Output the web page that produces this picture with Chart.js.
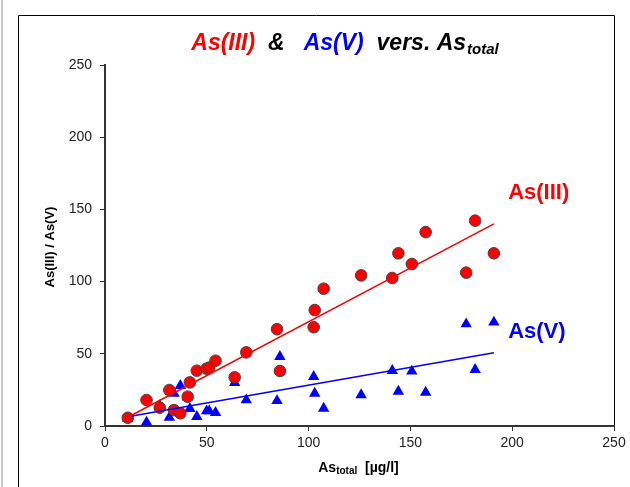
<!DOCTYPE html>
<html>
<head>
<meta charset="utf-8">
<script src="https://cdn.jsdelivr.net/npm/chart.js@4"></script>
<style>
  html, body { margin: 0; padding: 0; background: #fff; }
  #wrap { width: 630px; height: 487px; }
</style>
</head>
<body>
<div id="wrap"><canvas id="c" width="630" height="487"></canvas></div>
<script>
"use strict";

// As total (µg/l)
const asTotal = [11.2, 20.4, 26.9, 31.6, 33.9, 37.0, 40.6, 41.7, 45.1, 49.9, 51.2, 54.3, 63.7, 69.4,
                 84.5, 85.9, 102.5, 103.0, 107.4, 125.8, 141.1, 144.1, 150.7, 157.5, 177.4, 181.8, 191.0];
const asIII = [5.7, 18, 12.7, 24.9, 11, 8.8, 20.3, 30.2, 38.3, 39.7, 40.4, 45.2, 33.7, 51,
               67, 38.1, 68.4, 80.3, 95.1, 104.3, 102.5, 119.6, 112.2, 134.3, 106.2, 142.2, 119.6];
const asV = [5, 2.6, 14, 6, 22.6, 27.9, 20, 12, 6.5, 10.4, 10.4, 9.2, 30, 18,
             17.5, 48, 34.2, 22.6, 12.2, 21.5, 38.3, 24, 37.9, 23.3, 70.6, 39, 71.8];

// linear fits as drawn in the picture (slope, intercept)
const fitIII = [0.745, -2.3];
const fitV = [0.247, 3.6];

const xTicks = [0, 50, 100, 150, 200, 250];
const yTicks = [0, 50, 100, 150, 200, 250];

const FONT = "'Liberation Sans', Arial, sans-serif";
const RED = "#ff0000";
const BLUE = "#0000ff";

const pts = (xs, ys) => xs.map((x, i) => ({ x: x, y: ys[i] }));
const xMin = Math.min(...asTotal);
const xMax = Math.max(...asTotal);
const fitLine = f => [{ x: xMin, y: f[0] * xMin + f[1] }, { x: xMax, y: f[0] * xMax + f[1] }];

// frame, title and axis titles
const decor = {
    id: "decor",
    beforeDraw(chart) {
        const ctx = chart.ctx;
        ctx.save();
        ctx.fillStyle = "#fff";
        ctx.fillRect(0, 0, chart.width, chart.height);
        ctx.strokeStyle = "#c8c8c8";
        ctx.lineWidth = 2;
        ctx.beginPath();
        ctx.moveTo(2, 0); ctx.lineTo(2, chart.height);
        ctx.stroke();
        ctx.strokeStyle = "#000";
        ctx.lineWidth = 1;
        ctx.beginPath();
        ctx.moveTo(18.5, chart.height);
        ctx.lineTo(18.5, 15.5);
        ctx.lineTo(chart.chartArea.right + 0.5, 15.5);
        ctx.lineTo(chart.chartArea.right + 0.5, chart.chartArea.bottom);
        ctx.stroke();
        ctx.restore();
    },
    afterDraw(chart) {
        const ctx = chart.ctx;
        const xs = chart.scales.x, ys = chart.scales.y;
        ctx.save();
        ctx.textBaseline = "alphabetic";
        ctx.textAlign = "left";

        // title
        const parts = [["As(III)", RED], ["  &   ", "#000"], ["As(V)", BLUE], ["  vers. As", "#000"]];
        ctx.font = "italic bold 23px " + FONT;
        let w = 0;
        parts.forEach(p => { w += ctx.measureText(p[0]).width; });
        ctx.font = "italic bold 15px " + FONT;
        const subW = ctx.measureText("total").width;
        let x = 345 - (w + subW + 1) / 2;
        ctx.font = "italic bold 23px " + FONT;
        parts.forEach(p => {
            ctx.fillStyle = p[1];
            ctx.fillText(p[0], x, 50);
            x += ctx.measureText(p[0]).width;
        });
        ctx.font = "italic bold 15px " + FONT;
        ctx.fillStyle = "#000";
        ctx.fillText("total", x + 1, 54);

        // series labels
        ctx.font = "bold 22px " + FONT;
        ctx.fillStyle = RED;
        ctx.fillText("As(III)", xs.getPixelForValue(198), ys.getPixelForValue(157));
        ctx.fillStyle = BLUE;
        ctx.fillText("As(V)", xs.getPixelForValue(198), ys.getPixelForValue(61));

        // x title
        ctx.fillStyle = "#000";
        ctx.font = "bold 14px " + FONT;
        const a = ctx.measureText("As").width;
        const b = ctx.measureText("  [µg/l]").width;
        ctx.font = "bold 10px " + FONT;
        const t = ctx.measureText("total").width;
        let tx = (xs.left + xs.right) / 2 - 1 - (a + t + b) / 2;
        ctx.font = "bold 14px " + FONT;
        ctx.fillText("As", tx, 472);
        tx += a;
        ctx.font = "bold 10px " + FONT;
        ctx.fillText("total", tx, 474);
        tx += t;
        ctx.font = "bold 14px " + FONT;
        ctx.fillText("  [µg/l]", tx, 472);

        // y title
        ctx.translate(50, 247);
        ctx.rotate(-Math.PI / 2);
        ctx.textAlign = "center";
        ctx.textBaseline = "middle";
        ctx.font = "bold 13px " + FONT;
        ctx.fillText("As(III) / As(V)", 0, 0);
        ctx.restore();
    }
};

const axisCommon = {
    type: "linear",
    min: 0,
    max: 250,
    grid: { drawOnChartArea: false, drawTicks: true, tickLength: 5, color: "#333", lineWidth: 1 },
    border: { color: "#333", width: 2 },
    ticks: { color: "#222", font: { family: FONT, size: 14 } }
};

new Chart(document.getElementById("c"), {
    type: "scatter",
    data: {
        datasets: [
            {
                type: "line", data: fitLine(fitIII), borderColor: RED, borderWidth: 1.5,
                pointRadius: 0, fill: false, order: 0
            },
            {
                type: "line", data: fitLine(fitV), borderColor: BLUE, borderWidth: 1.5,
                pointRadius: 0, fill: false, order: 0
            },
            {
                label: "As(III)", data: pts(asTotal, asIII), pointStyle: "circle", pointRadius: 5.8,
                backgroundColor: RED, borderColor: "#444", borderWidth: 1, order: 1
            },
            {
                label: "As(V)", data: pts(asTotal, asV), pointStyle: "triangle", pointRadius: 6.6,
                backgroundColor: BLUE, borderColor: BLUE, borderWidth: 0, order: 2
            }
        ]
    },
    options: {
        responsive: false,
        animation: false,
        layout: { padding: { top: 65, right: 16, bottom: 0, left: 0 } },
        plugins: { legend: { display: false }, tooltip: { enabled: false }, title: { display: false } },
        scales: {
            x: Object.assign({}, axisCommon, {
                ticks: Object.assign({}, axisCommon.ticks, {
                    stepSize: 50, maxRotation: 0, padding: 4,
                    callback: v => xTicks.includes(v) ? String(v) : ""
                }),
                afterFit(s) { s.height = 61; s.paddingLeft = 0; s.paddingRight = 0; }
            }),
            y: Object.assign({}, axisCommon, {
                ticks: Object.assign({}, axisCommon.ticks, {
                    stepSize: 50, padding: 8,
                    callback: v => yTicks.includes(v) ? String(v) : ""
                }),
                afterFit(s) { s.width = 105; s.paddingTop = 0; s.paddingBottom = 0; }
            })
        }
    },
    plugins: [decor]
});
</script>
</body>
</html>
